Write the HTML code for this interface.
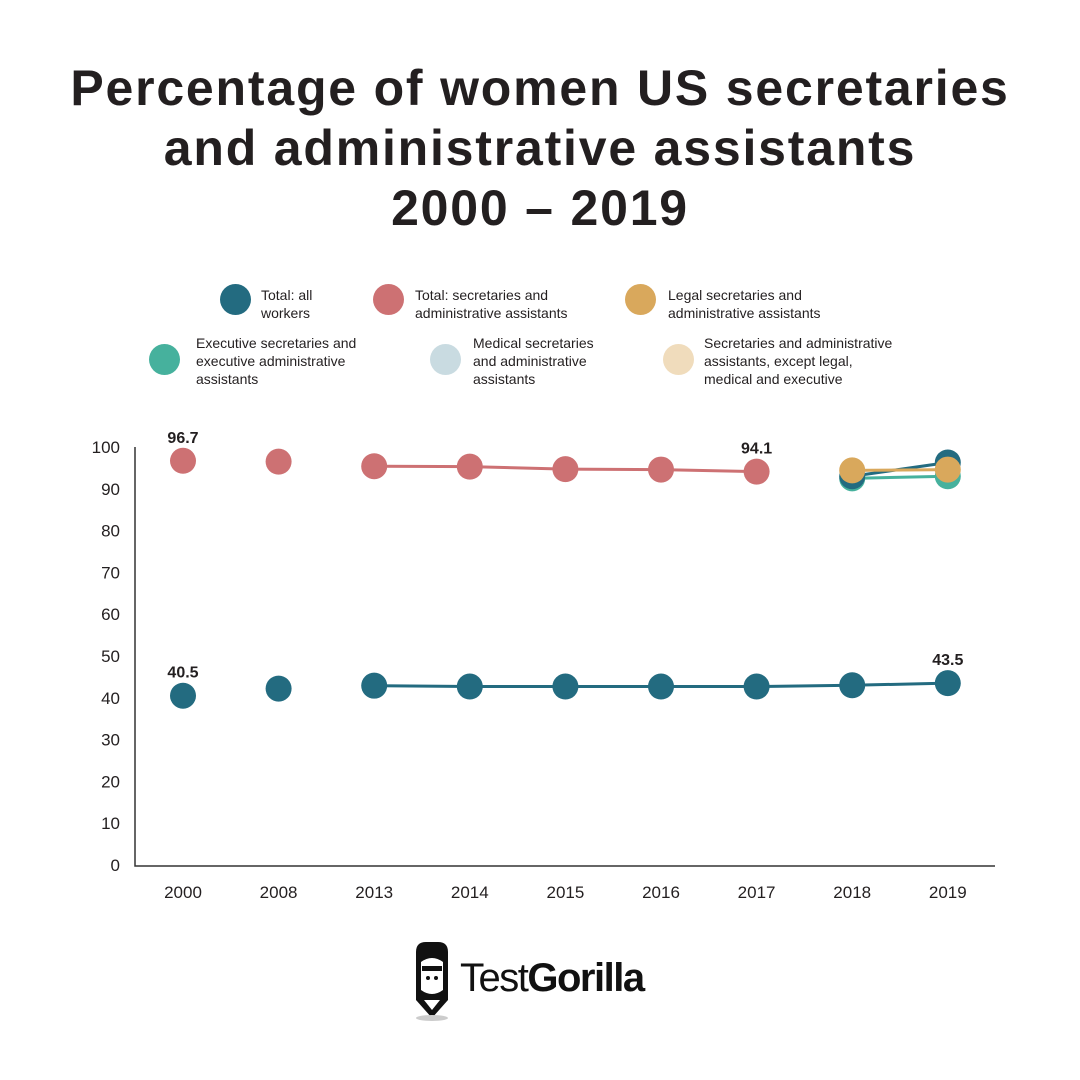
<!DOCTYPE html>
<html><head><meta charset="utf-8"><style>
body{margin:0;background:#fff;font-family:"Liberation Sans",sans-serif;}
#wrap{position:relative;width:1080px;height:1080px;overflow:hidden;}
h1{position:absolute;top:58px;left:0;width:1080px;margin:0;text-align:center;font-size:50px;line-height:60px;font-weight:bold;color:#231f20;letter-spacing:1.8px;}
.lg{position:absolute;font-size:14px;line-height:18px;color:#231f20;}
.dot{position:absolute;width:31px;height:31px;border-radius:50%;}
</style></head><body><div id="wrap">
<h1>Percentage of women US secretaries<br>and administrative assistants<br>2000 – 2019</h1>
<div>
<div class="dot" style="left:220px;top:284px;background:#236b80"></div>
<div class="lg" style="left:261px;top:286px">Total: all<br>workers</div>
<div class="dot" style="left:373px;top:284px;background:#cd7173"></div>
<div class="lg" style="left:415px;top:286px">Total: secretaries and<br>administrative assistants</div>
<div class="dot" style="left:625px;top:284px;background:#d9a85c"></div>
<div class="lg" style="left:668px;top:286px">Legal secretaries and<br>administrative assistants</div>
<div class="dot" style="left:149px;top:344px;background:#46b19d"></div>
<div class="lg" style="left:196px;top:334px">Executive secretaries and<br>executive administrative<br>assistants</div>
<div class="dot" style="left:430px;top:344px;background:#c9dbe1"></div>
<div class="lg" style="left:473px;top:334px">Medical secretaries<br>and administrative<br>assistants</div>
<div class="dot" style="left:663px;top:344px;background:#f0dcbc"></div>
<div class="lg" style="left:704px;top:334px">Secretaries and administrative<br>assistants, except legal,<br>medical and executive</div>
</div>
<svg id="chart" width="1080" height="1080" style="position:absolute;left:0;top:0"></svg>
<div style="position:absolute;left:412px;top:940px;width:270px;height:85px">
<svg width="50" height="85" style="position:absolute;left:0;top:0">
<path d="M4 12 Q4 2 14 2 L26 2 Q36 2 36 12 L36 60 L20 78 L4 60 Z" fill="#111"/>
<path d="M9 22 Q20 14 31 22 L31 50 Q20 58 9 50 Z" fill="#fff"/>
<rect x="10" y="26" width="20" height="5" fill="#111"/>
<circle cx="16" cy="38" r="2" fill="#111"/><circle cx="24" cy="38" r="2" fill="#111"/>
<path d="M12 60 L28 60 L20 70 Z" fill="#fff"/>
<ellipse cx="20" cy="78" rx="16" ry="3" fill="#ccc"/>
</svg>
<div style="position:absolute;left:48px;top:16px;font-size:40px;color:#111;letter-spacing:-1.5px">Test<b>Gorilla</b></div>
</div>
</div>
<script>
const years=["2000","2008","2013","2014","2015","2016","2017","2018","2019"];
const yTicks=[0,10,20,30,40,50,60,70,80,90,100];
const allWorkers=[40.5,42.2,42.9,42.7,42.7,42.7,42.7,43.0,43.5];
const secretaries=[96.7,96.5,95.4,95.3,94.7,94.6,94.1,null,null];
const otherSec=[null,null,null,null,null,null,null,93.0,96.3];
const executive=[null,null,null,null,null,null,null,92.5,93.0];
const legal=[null,null,null,null,null,null,null,94.4,94.6];
const labels=[{s:"all",i:0,t:"40.5"},{s:"all",i:8,t:"43.5"},{s:"sec",i:0,t:"96.7"},{s:"sec",i:6,t:"94.1"}];
const NS="http://www.w3.org/2000/svg",svg=document.getElementById('chart');
const x=i=>183+i*95.6, y=v=>865-v*4.18;
function mk(t,a){const e=document.createElementNS(NS,t);for(const k in a)e.setAttribute(k,a[k]);svg.appendChild(e);return e;}
let e=mk('path',{d:'M135 447 L135 866 L995 866',fill:'none',stroke:'#333','stroke-width':1.5});


yTicks.forEach(v=>{const t=mk('text',{x:120,y:y(v)+6,'text-anchor':'end','font-size':17,fill:'#231f20'});t.textContent=v;

});
years.forEach((c,i)=>{const t=mk('text',{x:x(i),y:898,'text-anchor':'middle','font-size':17,fill:'#231f20'});t.textContent=c;

});
function series(arr,col,name,from){
 let d='';arr.forEach((v,i)=>{if(v!=null&&i>=from)d+=(d?'L':'M')+x(i)+' '+y(v);});
 const p=mk('path',{d:d,fill:'none',stroke:col,'stroke-width':3});
 
 
 return ()=>arr.forEach((v,i)=>{if(v==null)return;const c=mk('circle',{cx:x(i),cy:y(v),r:13,fill:col});
 
 });
}
const dots=[series(allWorkers,'#236b80','all-workers',2),series(secretaries,'#cd7173','secretaries',2),series(executive,'#46b19d','executive',7),series(otherSec,'#236b80','other-secretaries',7),series(legal,'#d9a85c','legal',7)];
dots.forEach(f=>f());
labels.forEach(l=>{const v=(l.s=="all"?allWorkers:secretaries)[l.i];const t=mk('text',{x:x(l.i),y:y(v)-18,'text-anchor':'middle','font-size':16,'font-weight':'bold',fill:'#231f20'});t.textContent=l.t;

});
</script></body></html>
